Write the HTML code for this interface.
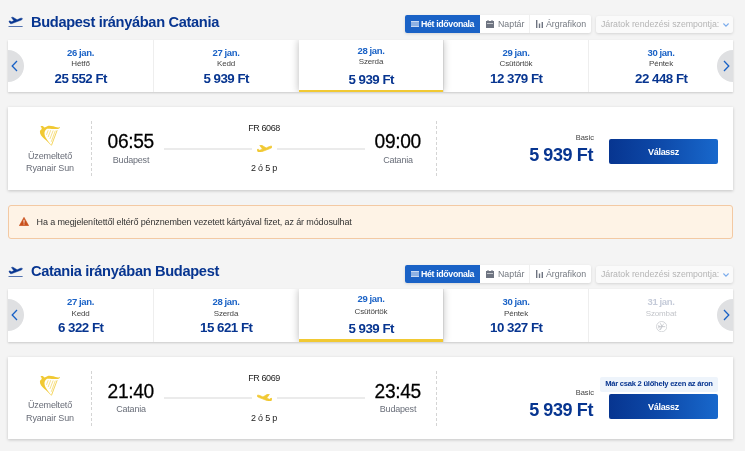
<!DOCTYPE html>
<html lang="hu">
<head>
<meta charset="utf-8">
<title>Ryanair</title>
<style>
*{box-sizing:border-box;margin:0;padding:0}
html,body{width:745px;height:451px;overflow:hidden;background:#f4f4f4;font-family:"Liberation Sans",sans-serif;color:#2e2e2e}
.abs{position:absolute}
.hdr{position:absolute;left:0;width:745px;height:40px}
.hdr .ico{position:absolute;left:8px;top:16px}
.hdr h2{position:absolute;left:31px;top:12px;font-size:15.4px;line-height:19px;font-weight:bold;color:#073590;white-space:nowrap;letter-spacing:-0.35px;transform:scaleX(.95);transform-origin:0 0}
.tabs{position:absolute;left:405px;top:15px;height:18px;width:186px;background:#fff;border-radius:2px;box-shadow:0 1px 3px rgba(0,0,0,.13)}
.tab{position:absolute;top:0;height:18px;font-size:8.8px;line-height:18px;color:#747981;white-space:nowrap}
.tab.on{left:0;width:75px;background:#1a62c6;color:#fff;font-weight:bold;border-radius:2px 0 0 2px}
.sel{position:absolute;left:596px;top:16px;width:137px;height:17px;background:#fafafa;border-radius:2px;box-shadow:0 1px 3px rgba(0,0,0,.13);font-size:8.8px;line-height:17px;color:#b5b5b5;white-space:nowrap;padding-left:5px;letter-spacing:-0.04px}
.car{position:absolute;left:8px;width:725px;height:52px;background:#fff;box-shadow:0 1px 2px rgba(0,0,0,.18)}
.car .clip{position:absolute;left:0;top:0;width:725px;height:52px;overflow:hidden}
.cell{position:absolute;top:0;height:52px;width:145px;text-align:center;border-left:1px solid #eee}
.cell:first-child{border-left:0}
.cell .d{position:absolute;left:0;right:0;top:7px;font-size:9.5px;line-height:11px;color:#1a62c6;font-weight:bold;letter-spacing:-0.4px}
.cell .w{position:absolute;left:0;right:0;top:19px;font-size:8px;line-height:10px;color:#444;letter-spacing:-0.15px}
.cell .p{position:absolute;left:0;right:0;top:31px;font-size:13.3px;line-height:16px;color:#073590;font-weight:bold;white-space:nowrap;letter-spacing:-0.5px;padding-left:.5px}
.cell.sel3{background:#fff;box-shadow:0 0 8px rgba(0,0,0,.28);border-left:0;border-bottom:2px solid #f1c933;z-index:2}
.cell.sel3 .d{top:5px}.cell.sel3 .w{top:17px}.cell.sel3 .p{top:32px}
.cell.off .d{color:#c5cbd9}.cell.off .w{color:#c3c5ca}
.car.c2,.c2 .clip,.c2 .cell{height:53px}.c2 .cell .w{margin-top:1px}.c2 .cell.sel3{border-bottom-width:3px}.c2 .cell.sel3 .d{margin-top:-1px}.c2 .cell.sel3 .w{margin-top:1px}
.arr{position:absolute;top:10px;width:16px;height:32px;background:#dfe0e2;overflow:hidden;z-index:3}
.arr.l{left:0;border-radius:0 16px 16px 0}
.arr.r{right:0;border-radius:16px 0 0 16px}
.card{position:absolute;left:8px;width:725px;height:83px;background:#fff;box-shadow:0 1px 3px rgba(0,0,0,.2)}
.dash{position:absolute;top:14px;height:55px;width:1px;background:repeating-linear-gradient(180deg,#d4d4d4 0,#d4d4d4 3px,transparent 3px,transparent 5.2px)}
.op{position:absolute;left:12px;width:60px;text-align:center;font-size:9px;line-height:12px;color:#696d78;white-space:nowrap;letter-spacing:-0.15px}
.time{position:absolute;font-size:19.2px;line-height:20px;color:#000;white-space:nowrap;letter-spacing:-0.35px;-webkit-text-stroke:0.25px #000;transform:scaleY(1.05);transform-origin:50% 0}
.city{position:absolute;font-size:9px;line-height:11px;color:#6a6f7a;text-align:center;white-space:nowrap;letter-spacing:-0.2px}
.ln{position:absolute;height:2px;background:#ebebeb}
.fn{position:absolute;left:216px;width:80px;text-align:center;font-size:9px;line-height:10px;color:#222;white-space:nowrap;letter-spacing:-0.4px}
.basic{position:absolute;right:139px;font-size:7.5px;line-height:9px;color:#444;white-space:nowrap}
.price{position:absolute;right:140px;font-size:18px;line-height:20px;font-weight:bold;color:#073590;white-space:nowrap;letter-spacing:-0.4px}
.btn{position:absolute;left:601px;width:109px;height:25px;border-radius:2px;background:linear-gradient(90deg,#073590 0%,#0e4bab 50%,#1868cc 100%);color:#fff;font-weight:bold;font-size:9px;line-height:26px;text-align:center;letter-spacing:-0.3px}
.warn{position:absolute;left:8px;top:205px;width:725px;height:34px;background:#fef3e6;border:1px solid #f3c9a3;border-radius:3px}
.warn span{position:absolute;left:27.6px;top:10px;font-size:9px;line-height:12px;color:#333;white-space:nowrap;letter-spacing:-0.125px}
.badge{position:absolute;left:592px;top:20px;width:118px;height:15px;background:#eef4fb;border-radius:2px;font-size:7.6px;line-height:13px;color:#073590;font-weight:bold;text-align:center;white-space:nowrap;letter-spacing:-0.25px}
</style>
</head>
<body>

<!-- ===== outbound header ===== -->
<div class="hdr" style="top:0">
  <svg class="ico" style="left:4px;top:10px" width="30" height="24" viewBox="0 0 564 451"><path d="M93 212 L112 204 L137 222 L186 204 L140 141 L166 134 L247 184 L300 160 C320 150 347 150 347 165 C347 180 320 190 300 198 L150 255 C130 262 115 255 108 243 Z" fill="#073590" stroke="#073590" stroke-width="9" stroke-linejoin="round"/><rect x="85" y="302" width="265" height="17" fill="#073590" opacity=".75"/></svg>
  <h2>Budapest irányában Catania</h2>
  <div class="tabs">
    <div class="tab on"><span style="position:absolute;left:16px;letter-spacing:-0.35px">Hét idővonala</span>
      <svg class="abs" style="left:6px;top:6px" width="8" height="6" viewBox="0 0 8 6"><path d="M0 0.2h8v1.2H0zM0 2.4h8v1.2H0zM0 4.6h8v1.2H0z" fill="#fff"/></svg></div>
    <div class="tab" style="left:75px;width:49px"><svg class="abs" style="left:6px;top:5px" width="8" height="8" viewBox="0 0 8 8"><path d="M0 1h8v7H0z" fill="#6e7481"/><path d="M1.5 0h1v2h-1zM5.5 0h1v2h-1z" fill="#6e7481"/><path d="M1 3.5h6" stroke="#fff" stroke-width=".6"/></svg><span style="position:absolute;left:18px">Naptár</span></div>
    <div class="tab" style="left:124px;width:62px;border-left:1px solid #f0f0f0"><svg class="abs" style="left:6px;top:5px" width="7" height="8" viewBox="0 0 7 8"><path d="M0 0h1.4v8H0zM2.8 3.5h1.4V8H2.8zM5.6 2h1.4v6H5.6z" fill="#6e7481"/></svg><span style="position:absolute;left:16px">Árgrafikon</span></div>
  </div>
  <div class="sel">Járatok rendezési szempontja:
    <svg class="abs" style="left:126.5px;top:6.5px" width="6" height="4" viewBox="0 0 6 4"><path d="M0.4 0.5L3 3.1L5.6 0.5" fill="none" stroke="#7aabec" stroke-width="1.1"/></svg></div>
</div>

<!-- ===== outbound carousel ===== -->
<div class="car" style="top:40px">
  <div class="clip">
  <div class="cell" style="left:0"><div class="d">26 jan.</div><div class="w">Hétfő</div><div class="p">25 552 Ft</div></div>
  <div class="cell" style="left:145px"><div class="d">27 jan.</div><div class="w">Kedd</div><div class="p">5 939 Ft</div></div>
  <div class="cell sel3" style="left:291px;width:144px"><div class="d">28 jan.</div><div class="w">Szerda</div><div class="p">5 939 Ft</div></div>
  <div class="cell" style="left:435px"><div class="d">29 jan.</div><div class="w">Csütörtök</div><div class="p">12 379 Ft</div></div>
  <div class="cell" style="left:580px"><div class="d">30 jan.</div><div class="w">Péntek</div><div class="p">22 448 Ft</div></div>
  </div>
  <div class="arr l"><svg class="abs" style="left:3px;top:10px" width="7" height="12" viewBox="0 0 7 12"><path d="M6 1L1.2 6L6 11" fill="none" stroke="#1a62c6" stroke-width="1.3"/></svg></div>
  <div class="arr r"><svg class="abs" style="left:6px;top:10px" width="7" height="12" viewBox="0 0 7 12"><path d="M1 1L5.8 6L1 11" fill="none" stroke="#1a62c6" stroke-width="1.3"/></svg></div>
</div>

<!-- ===== outbound flight card ===== -->
<div class="card" style="top:107px">
  <svg class="abs" style="left:22px;top:11px" width="40" height="32" viewBox="0 0 564 451"><path d="M150 118 C165 106 192 114 195 128 C205 140 225 125 250 112 C290 104 340 120 395 135 C410 135 415 128 420 122 C426 140 410 152 390 156 C340 159 280 150 240 152 C215 165 200 195 205 230 C210 280 262 330 307 394 C280 372 240 322 200 292 C165 262 135 222 140 186 C145 166 170 160 165 140 C160 130 150 128 150 118 Z" fill="#f1c933"/><path d="M257 172L232 238M292 172L256 268M327 175L281 295M357 178L300 335" stroke="#f1c933" stroke-width="10" fill="none" opacity=".8"/><path d="M383 172L303 385" stroke="#f1c933" stroke-width="13" fill="none" opacity=".85"/></svg>
  <div class="op" style="top:43px">Üzemeltető</div>
  <div class="op" style="top:55px">Ryanair Sun</div>
  <div class="dash" style="left:83px"></div>
  <div class="time" style="left:99.6px;top:24px">06:55</div>
  <div class="city" style="left:93px;width:60px;top:48px">Budapest</div>
  <div class="ln" style="left:156px;width:88px;top:41px"></div>
  <div class="ln" style="left:269px;width:88px;top:41px"></div>
  <svg class="abs" style="left:249px;top:37.6px" width="15.16" height="7.40" viewBox="93 134 254 124"><path d="M93 212 L112 204 L137 222 L186 204 L140 141 L166 134 L247 184 L300 160 C320 150 347 150 347 165 C347 180 320 190 300 198 L150 255 C130 262 115 255 108 243 Z" fill="#f1c933" stroke="#f1c933" stroke-width="12" stroke-linejoin="round"/></svg>
  <div class="fn" style="top:16px">FR 6068</div>
  <div class="fn" style="top:56px;letter-spacing:-0.2px">2 ó 5 p</div>
  <div class="time" style="left:366.6px;top:24px">09:00</div>
  <div class="city" style="left:360px;width:60px;top:48px">Catania</div>
  <div class="dash" style="left:428px"></div>
  <div class="basic" style="top:26px">Basic</div>
  <div class="price" style="top:38px">5 939 Ft</div>
  <div class="btn" style="top:32px">Válassz</div>
</div>

<!-- ===== warning ===== -->
<div class="warn">
  <svg class="abs" style="left:10px;top:10.6px" width="10" height="9.2" viewBox="0 0 11 10"><path d="M5.5 0.3 L10.7 9.6 H0.3 Z" fill="#c9501c" stroke="#c9501c" stroke-width=".6" stroke-linejoin="round"/><path d="M5 3h1v3.4H5zM5 7.2h1v1.1H5z" fill="#fff"/></svg>
  <span>Ha a megjelenítettől eltérő pénznemben vezetett kártyával fizet, az ár módosulhat</span>
</div>

<!-- ===== inbound header ===== -->
<div class="hdr" style="top:250px">
  <svg class="ico" style="left:4px;top:10px" width="30" height="24" viewBox="0 0 564 451"><path d="M93 212 L112 204 L137 222 L186 204 L140 141 L166 134 L247 184 L300 160 C320 150 347 150 347 165 C347 180 320 190 300 198 L150 255 C130 262 115 255 108 243 Z" fill="#073590" stroke="#073590" stroke-width="9" stroke-linejoin="round"/><rect x="85" y="302" width="265" height="17" fill="#073590" opacity=".75"/></svg>
  <h2 style="top:11px">Catania irányában Budapest</h2>
  <div class="tabs">
    <div class="tab on"><span style="position:absolute;left:16px;letter-spacing:-0.35px">Hét idővonala</span>
      <svg class="abs" style="left:6px;top:6px" width="8" height="6" viewBox="0 0 8 6"><path d="M0 0.2h8v1.2H0zM0 2.4h8v1.2H0zM0 4.6h8v1.2H0z" fill="#fff"/></svg></div>
    <div class="tab" style="left:75px;width:49px"><svg class="abs" style="left:6px;top:5px" width="8" height="8" viewBox="0 0 8 8"><path d="M0 1h8v7H0z" fill="#6e7481"/><path d="M1.5 0h1v2h-1zM5.5 0h1v2h-1z" fill="#6e7481"/><path d="M1 3.5h6" stroke="#fff" stroke-width=".6"/></svg><span style="position:absolute;left:18px">Naptár</span></div>
    <div class="tab" style="left:124px;width:62px;border-left:1px solid #f0f0f0"><svg class="abs" style="left:6px;top:5px" width="7" height="8" viewBox="0 0 7 8"><path d="M0 0h1.4v8H0zM2.8 3.5h1.4V8H2.8zM5.6 2h1.4v6H5.6z" fill="#6e7481"/></svg><span style="position:absolute;left:16px">Árgrafikon</span></div>
  </div>
  <div class="sel">Járatok rendezési szempontja:
    <svg class="abs" style="left:126.5px;top:6.5px" width="6" height="4" viewBox="0 0 6 4"><path d="M0.4 0.5L3 3.1L5.6 0.5" fill="none" stroke="#7aabec" stroke-width="1.1"/></svg></div>
</div>

<!-- ===== inbound carousel ===== -->
<div class="car c2" style="top:289px">
  <div class="clip">
  <div class="cell" style="left:0"><div class="d">27 jan.</div><div class="w">Kedd</div><div class="p">6 322 Ft</div></div>
  <div class="cell" style="left:145px"><div class="d">28 jan.</div><div class="w">Szerda</div><div class="p">15 621 Ft</div></div>
  <div class="cell sel3" style="left:291px;width:144px"><div class="d">29 jan.</div><div class="w">Csütörtök</div><div class="p">5 939 Ft</div></div>
  <div class="cell" style="left:435px"><div class="d">30 jan.</div><div class="w">Péntek</div><div class="p">10 327 Ft</div></div>
  <div class="cell off" style="left:580px"><div class="d">31 jan.</div><div class="w">Szombat</div>
    <svg class="abs" style="left:67px;top:31.7px" width="11.3" height="11.3" viewBox="0 0 11 11"><circle cx="5.5" cy="5.5" r="5" fill="none" stroke="#c6c8cd" stroke-width=".7"/><path d="M2.6 5.5H8.6M5.9 5.5L4.4 2.6M5.9 5.5L4.4 8.4M3.2 5.5L2.7 4.3M3.2 5.5L2.7 6.7" stroke="#c6c8cd" stroke-width=".9" fill="none" stroke-linecap="round"/><path d="M3.2 8.6L7.8 2.4" stroke="#c6c8cd" stroke-width=".7"/></svg></div>
  </div>
  <div class="arr l"><svg class="abs" style="left:3px;top:10px" width="7" height="12" viewBox="0 0 7 12"><path d="M6 1L1.2 6L6 11" fill="none" stroke="#1a62c6" stroke-width="1.3"/></svg></div>
  <div class="arr r"><svg class="abs" style="left:6px;top:10px" width="7" height="12" viewBox="0 0 7 12"><path d="M1 1L5.8 6L1 11" fill="none" stroke="#1a62c6" stroke-width="1.3"/></svg></div>
</div>

<!-- ===== inbound flight card ===== -->
<div class="card" style="top:357px;height:82px">
  <svg class="abs" style="left:22px;top:11px" width="40" height="32" viewBox="0 0 564 451"><path d="M150 118 C165 106 192 114 195 128 C205 140 225 125 250 112 C290 104 340 120 395 135 C410 135 415 128 420 122 C426 140 410 152 390 156 C340 159 280 150 240 152 C215 165 200 195 205 230 C210 280 262 330 307 394 C280 372 240 322 200 292 C165 262 135 222 140 186 C145 166 170 160 165 140 C160 130 150 128 150 118 Z" fill="#f1c933"/><path d="M257 172L232 238M292 172L256 268M327 175L281 295M357 178L300 335" stroke="#f1c933" stroke-width="10" fill="none" opacity=".8"/><path d="M383 172L303 385" stroke="#f1c933" stroke-width="13" fill="none" opacity=".85"/></svg>
  <div class="op" style="top:42px">Üzemeltető</div>
  <div class="op" style="top:55px">Ryanair Sun</div>
  <div class="dash" style="left:83px"></div>
  <div class="time" style="left:99.6px;top:24px">21:40</div>
  <div class="city" style="left:93px;width:60px;top:47px">Catania</div>
  <div class="ln" style="left:156px;width:88px;top:40px"></div>
  <div class="ln" style="left:269px;width:88px;top:40px"></div>
  <svg class="abs" style="left:249px;top:36.6px" width="15.16" height="7.40" viewBox="93 134 254 124"><g transform="translate(440,0) scale(-1,1)"><path d="M93 212 L112 204 L137 222 L186 204 L140 141 L166 134 L247 184 L300 160 C320 150 347 150 347 165 C347 180 320 190 300 198 L150 255 C130 262 115 255 108 243 Z" fill="#f1c933" stroke="#f1c933" stroke-width="12" stroke-linejoin="round"/></g></svg>
  <div class="fn" style="top:16px">FR 6069</div>
  <div class="fn" style="top:56px;letter-spacing:-0.2px">2 ó 5 p</div>
  <div class="time" style="left:366.6px;top:24px">23:45</div>
  <div class="city" style="left:360px;width:60px;top:47px">Budapest</div>
  <div class="dash" style="left:428px"></div>
  <div class="badge">Már csak 2 ülőhely ezen az áron</div>
  <div class="basic" style="top:30.6px">Basic</div>
  <div class="price" style="top:43px">5 939 Ft</div>
  <div class="btn" style="top:37px">Válassz</div>
</div>

</body>
</html>
